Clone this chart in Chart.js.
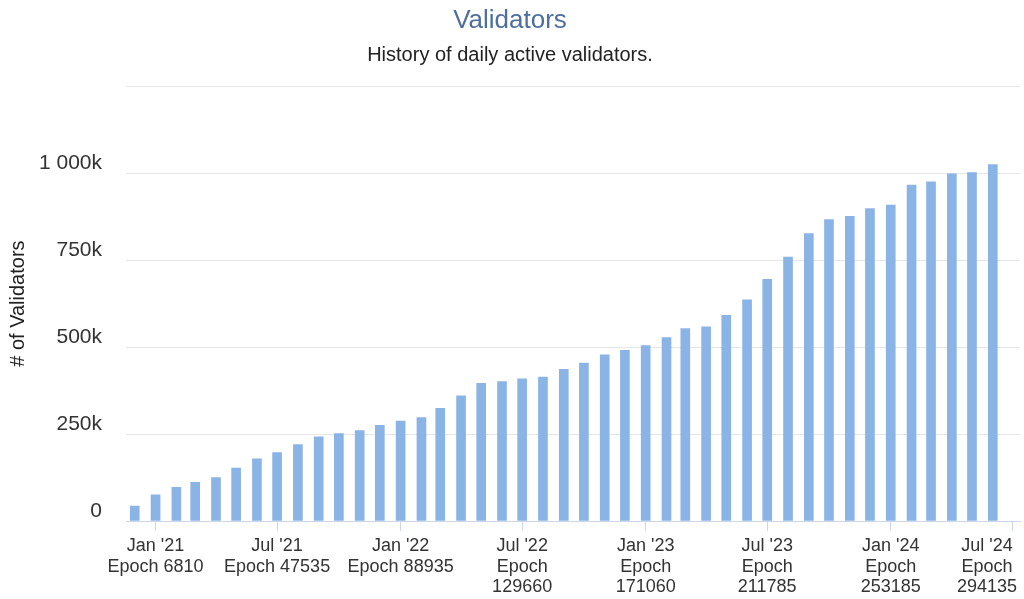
<!DOCTYPE html>
<html>
<head>
<meta charset="utf-8">
<title>Validators</title>
<script src="https://cdn.jsdelivr.net/npm/chart.js@4/dist/chart.umd.min.js"></script>
<style>
  html, body { margin: 0; padding: 0; background: #fff; }
  #wrap { width: 1024px; height: 599px; }
</style>
</head>
<body>
<div id="wrap"><canvas id="validatorsChart" width="1024" height="599"></canvas></div>
<script>
// monthly snapshots, first day of each month
const months = [
    '2020-12',
    '2021-01', '2021-02', '2021-03', '2021-04', '2021-05', '2021-06',
    '2021-07', '2021-08', '2021-09', '2021-10', '2021-11', '2021-12',
    '2022-01', '2022-02', '2022-03', '2022-04', '2022-05', '2022-06',
    '2022-07', '2022-08', '2022-09', '2022-10', '2022-11', '2022-12',
    '2023-01', '2023-02', '2023-03', '2023-04', '2023-05', '2023-06',
    '2023-07', '2023-08', '2023-09', '2023-10', '2023-11', '2023-12',
    '2024-01', '2024-02', '2024-03', '2024-04', '2024-05', '2024-06'
];

const validators = [
    43000,
    75000, 97000, 111500, 125000, 152000, 179000,
    197000, 220000, 242000, 251600, 260000, 275000,
    287000, 297000, 324000, 360000, 396000, 400600,
    409000, 414000, 436000, 454000, 477500, 491000,
    504000, 527000, 553000, 558000, 591000, 636000,
    694500, 759000, 826000, 866500, 876000, 898000,
    908000, 966000, 975000, 998000, 1002000, 1025000
];

const tickMonths = ["Jan '21", "Jul '21", "Jan '22", "Jul '22", "Jan '23", "Jul '23", "Jan '24", "Jul '24"];
const tickEpochs = [6810, 47535, 88935, 129660, 171060, 211785, 253185, 294135];

const yTicks = [0, 250000, 500000, 750000, 1000000, 1250000];

const EPOCHS_PER_DAY = 225;

function epochOfMonth(ym) {
    const [y, m] = ym.split('-').map(Number);
    const days = (Date.UTC(y, m - 1, 1) - Date.UTC(2021, 0, 1)) / 86400000;
    return tickEpochs[0] + days * EPOCHS_PER_DAY;
}

function formatK(value) {
    if (value === 0) return '0';
    const k = String(value / 1000).replace(/\B(?=(\d{3})+(?!\d))/g, ' ');
    return k + 'k';
}

function tickLabel(i) {
    const epoch = String(tickEpochs[i]);
    if (epoch.length > 5) return [tickMonths[i], 'Epoch', epoch];
    return [tickMonths[i], 'Epoch ' + epoch];
}

// keep the last x label inside the canvas, like the original
const keepLabelInside = {
    id: 'keepLabelInside',
    beforeDraw(chart) {
        const scale = chart.scales.x;
        const items = scale.getLabelItems();
        const last = items[items.length - 1];
        if (!last) return;
        const ctx = chart.ctx;
        ctx.save();
        ctx.font = last.font.string;
        const lines = Array.isArray(last.label) ? last.label : [last.label];
        const w = Math.max(...lines.map(l => ctx.measureText(l).width));
        ctx.restore();
        last.options.translation[0] = Math.min(last.options.translation[0], chart.width - w / 2 - 7);
    }
};

Chart.defaults.font.family = "'Liberation Sans', Arial, Helvetica, sans-serif";
Chart.defaults.color = '#333333';

const ctx = document.getElementById('validatorsChart');

new Chart(ctx, {
    type: 'bar',
    data: {
        datasets: [{
            label: '# of Validators',
            data: months.map((m, i) => ({ x: epochOfMonth(m), y: validators[i] })),
            backgroundColor: '#8ab4e6',
            borderWidth: 0,
            barThickness: 9
        }]
    },
    options: {
        responsive: false,
        animation: false,
        devicePixelRatio: 1,
        layout: { padding: { left: 0, right: 4, top: 0, bottom: 0 } },
        plugins: {
            legend: { display: false },
            tooltip: { enabled: false },
            title: {
                display: true,
                text: 'Validators',
                color: '#4c6fa0',
                font: { size: 26, weight: 'normal' },
                padding: { top: 5, bottom: 0 }
            },
            subtitle: {
                display: true,
                text: 'History of daily active validators.',
                color: '#222222',
                font: { size: 20, weight: 'normal' },
                padding: { top: 7, bottom: 19 }
            }
        },
        scales: {
            x: {
                type: 'linear',
                offset: false,
                min: -3100,
                max: 296500,
                grid: {
                    offset: false,
                    drawOnChartArea: false,
                    drawTicks: true,
                    tickLength: 10,
                    color: '#ccd6eb',
                    tickColor: '#ccd6eb'
                },
                border: { display: true, color: '#ccd6eb', width: 1 },
                afterBuildTicks: (scale) => {
                    scale.ticks = tickEpochs.map(v => ({ value: v }));
                },
                afterFit: (scale) => {
                    scale.paddingLeft = 0;
                    scale.paddingRight = 0;
                    scale.height = 78;
                },
                ticks: {
                    autoSkip: false,
                    maxRotation: 0,
                    padding: 5,
                    color: '#333333',
                    font: { size: 18, lineHeight: 1.14 },
                    callback: (value, index) => tickLabel(index)
                }
            },
            y: {
                min: 0,
                max: 1250000,
                afterBuildTicks: (scale) => {
                    scale.ticks = yTicks.map(v => ({ value: v }));
                },
                afterFit: (scale) => {
                    scale.width = 126;
                },
                grid: { color: '#e6e6e6', drawTicks: false },
                border: { display: false },
                ticks: {
                    padding: 24,
                    labelOffset: -10,
                    color: '#333333',
                    font: { size: 21 },
                    callback: (value) => value === 1250000 ? '' : formatK(value)
                },
                title: {
                    display: true,
                    text: '# of Validators',
                    color: '#222222',
                    font: { size: 20 },
                    padding: { top: 6, bottom: 0 }
                }
            }
        }
    },
    plugins: [keepLabelInside]
});
</script>
</body>
</html>
